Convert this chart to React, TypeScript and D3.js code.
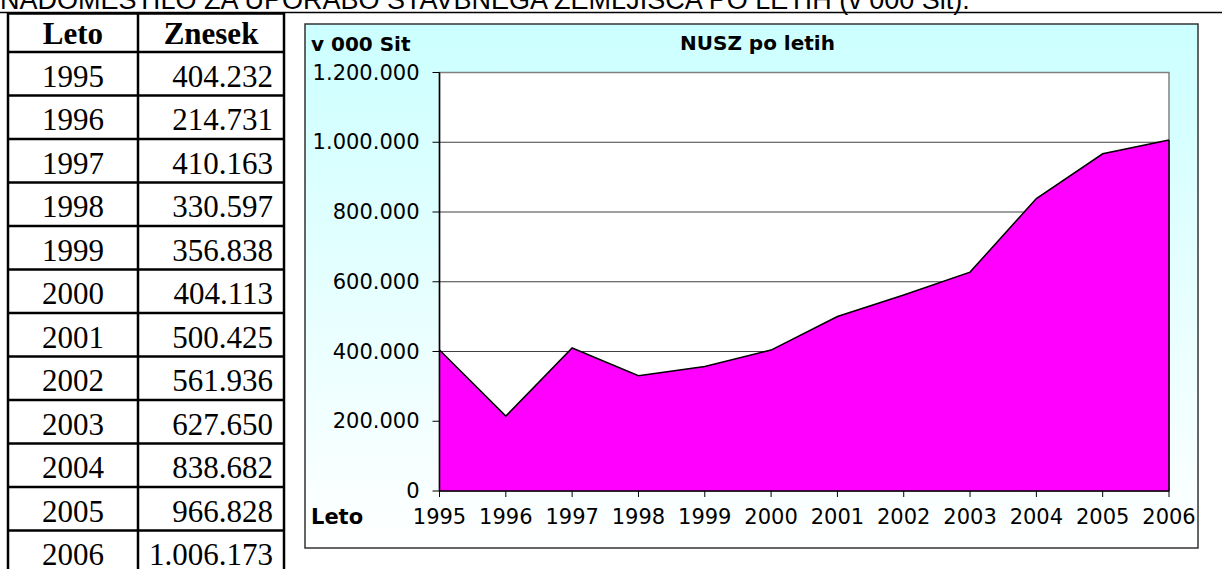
import React from "react";
import * as d3 from "d3";

const years = ["1995", "1996", "1997", "1998", "1999", "2000", "2001", "2002", "2003", "2004", "2005", "2006"];
const amounts = [404232, 214731, 410163, 330597, 356838, 404113, 500425, 561936, 627650, 838682, 966828, 1006173];
const yTicks = [0, 200000, 400000, 600000, 800000, 1000000, 1200000];

const pageTitle = "NADOMESTILO ZA UPORABO STAVBNEGA ZEMLJIŠČA PO LETIH (v 000 Sit).";
const chartTitle = "NUSZ po letih";
const unitLabel = "v 000 Sit";
const xLabel = "Leto";
const colHeaders = ["Leto", "Znesek"];

const W = 1222, H = 569;

const slo = d3.formatLocale({ decimal: ",", thousands: ".", grouping: [3], currency: ["", " Sit"] });
const fmt = slo.format(",d");

const sans = "'DejaVu Sans', sans-serif";
const serif = "'Liberation Serif', 'Times New Roman', serif";

const DataTable = () => {
  const left = 8, mid = 138, right = 284;
  const top = 13.5, headBottom = 52, rowH = 43.5;
  const rows = years.map((y, i) => ({ y, v: amounts[i], y0: headBottom + i * rowH }));
  const bottom = headBottom + rows.length * rowH;
  return (
    <g>
      <rect x={left} y={top} width={right - left} height={bottom - top} fill="#fff" stroke="#000" strokeWidth={2.5} />
      <line x1={mid} x2={mid} y1={top} y2={bottom} stroke="#000" strokeWidth={2.5} />
      <line x1={left} x2={right} y1={headBottom} y2={headBottom} stroke="#000" strokeWidth={2.5} />
      {rows.map((r, i) => (
        <g key={r.y}>
          {i > 0 && <line x1={left} x2={right} y1={r.y0} y2={r.y0} stroke="#000" strokeWidth={2.5} />}
          <text x={(left + mid) / 2} y={r.y0 + rowH - 9} textAnchor="middle" fontFamily={serif} fontSize={31}>{r.y}</text>
          <text x={right - 11} y={r.y0 + rowH - 9} textAnchor="end" fontFamily={serif} fontSize={31}>{fmt(r.v)}</text>
        </g>
      ))}
      <text x={(left + mid) / 2} y={headBottom - 8} textAnchor="middle" fontFamily={serif} fontSize={31} fontWeight="bold">{colHeaders[0]}</text>
      <text x={(mid + right) / 2} y={headBottom - 8} textAnchor="middle" fontFamily={serif} fontSize={31} fontWeight="bold">{colHeaders[1]}</text>
    </g>
  );
};

const AreaChart = () => {
  const box = { x: 305, y: 24, w: 893, h: 524 };
  const plot = { left: 439.5, right: 1169, top: 72.5, bottom: 491 };

  const x = d3.scalePoint().domain(years).range([plot.left, plot.right]);
  const y = d3.scaleLinear().domain([0, 1200000]).range([plot.bottom, plot.top]);

  const pts = years.map((yr, i) => ({ yr, v: amounts[i] }));
  const area = d3.area<{ yr: string; v: number }>()
    .x((d) => x(d.yr)!)
    .y0(y(0))
    .y1((d) => y(d.v));
  const line = d3.line<{ yr: string; v: number }>()
    .x((d) => x(d.yr)!)
    .y((d) => y(d.v));

  return (
    <g>
      <defs>
        <linearGradient id="bg" x1="0" y1="0" x2="0" y2="1">
          <stop offset="0" stopColor="#ccffff" />
          <stop offset="1" stopColor="#ffffff" />
        </linearGradient>
      </defs>
      <rect x={box.x} y={box.y} width={box.w} height={box.h} fill="url(#bg)" stroke="#333" strokeWidth={1.5} />

      {/* plot area */}
      <rect x={plot.left} y={plot.top} width={plot.right - plot.left} height={plot.bottom - plot.top} fill="#fff" stroke="#808080" strokeWidth={1.5} />
      {yTicks.filter((t) => t > 0 && t < 1200000).map((t) => (
        <line key={t} x1={plot.left} x2={plot.right} y1={y(t)} y2={y(t)} stroke="#404040" strokeWidth={1} />
      ))}

      <path d={area(pts)!} fill="#ff00ff" />
      <path d={line(pts)!} fill="none" stroke="#000" strokeWidth={1.5} />
      <line x1={plot.right} x2={plot.right} y1={y(amounts[amounts.length - 1])} y2={plot.bottom} stroke="#000" strokeWidth={1.5} />

      {/* axes */}
      <line x1={plot.left} x2={plot.left} y1={plot.top} y2={plot.bottom} stroke="#000" strokeWidth={1.5} />
      <line x1={plot.left} x2={plot.right} y1={plot.bottom} y2={plot.bottom} stroke="#000" strokeWidth={1.5} />
      {yTicks.map((t) => (
        <g key={t}>
          <line x1={plot.left - 7} x2={plot.left} y1={y(t)} y2={y(t)} stroke="#000" strokeWidth={1} />
          <text x={plot.left - 20} y={y(t) + 7} textAnchor="end" fontFamily={sans} fontSize={21}>{fmt(t)}</text>
        </g>
      ))}
      {years.map((yr) => (
        <g key={yr}>
          <line x1={x(yr)} x2={x(yr)} y1={plot.bottom} y2={plot.bottom + 6} stroke="#000" strokeWidth={1} />
          <text x={x(yr)} y={plot.bottom + 33} textAnchor="middle" fontFamily={sans} fontSize={21}>{yr}</text>
        </g>
      ))}

      <text x={box.x + 6} y={51} fontFamily={sans} fontSize={20} fontWeight="bold">{unitLabel}</text>
      <text x={680} y={50} fontFamily={sans} fontSize={20} fontWeight="bold">{chartTitle}</text>
      <text x={box.x + 6} y={plot.bottom + 33} fontFamily={sans} fontSize={21} fontWeight="bold">{xLabel}</text>
    </g>
  );
};

export default function App() {
  return (
    <svg width={W} height={H} style={{ position: "absolute", left: 0, top: 0, background: "#fff" }}>
      <text x={0} y={9} fontFamily="'Liberation Sans', Arial, sans-serif" fontSize={27}>{pageTitle}</text>
      <line x1={0} x2={W} y1={12.5} y2={12.5} stroke="#000" strokeWidth={1.5} />
      <DataTable />
      <AreaChart />
    </svg>
  );
}
